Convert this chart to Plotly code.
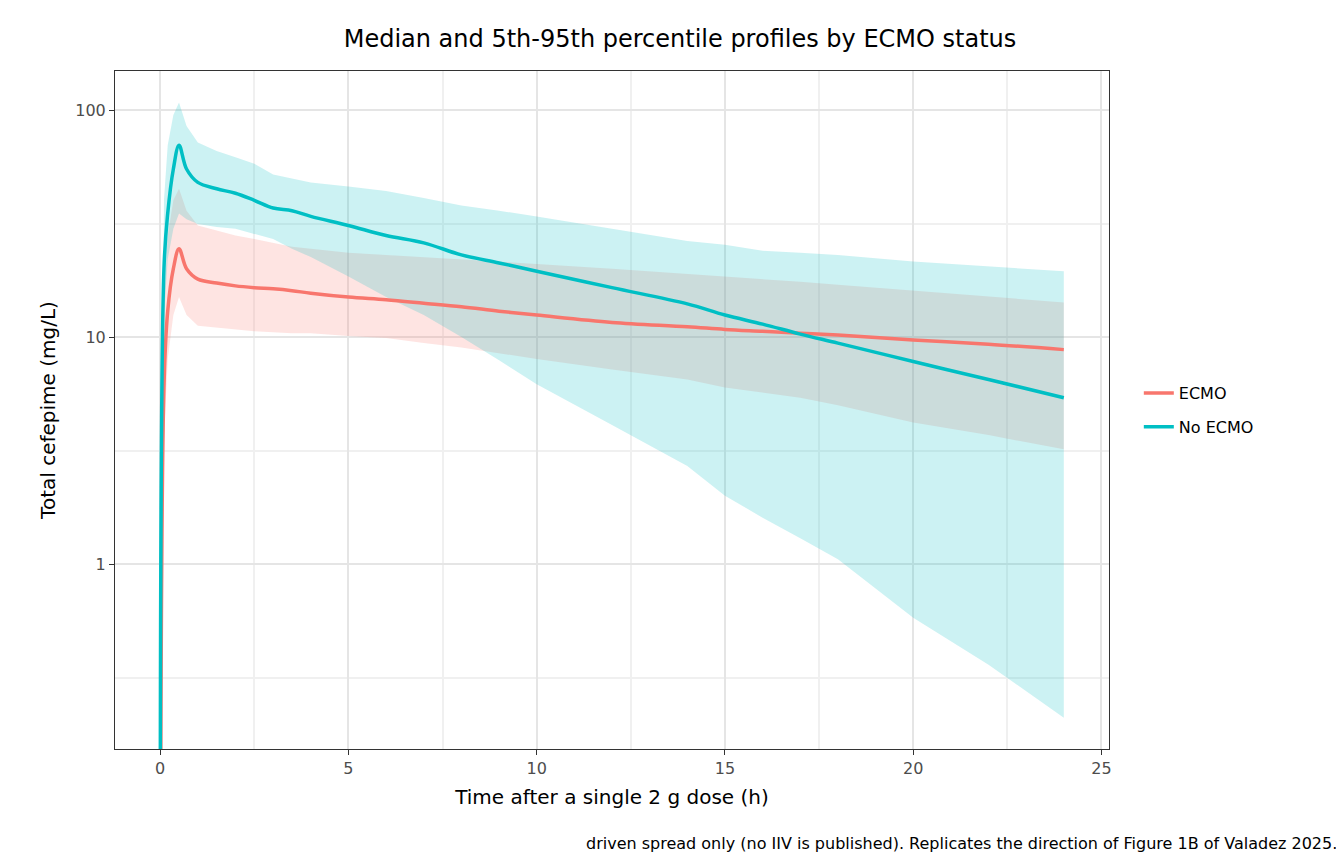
import plotly.graph_objects as go

# Time grid (h) and read-off concentrations (mg/L)
t = [0, 0.1, 0.2, 0.35, 0.5, 0.7, 1, 1.5, 2, 2.5, 3, 3.5, 4, 5, 6, 7, 8, 9, 10, 12, 14, 15, 16, 17, 18, 20, 22, 24]

noecmo_med = [0.01, 20, 35, 55, 70, 55, 48, 45, 43, 40, 37, 36, 34, 31, 28, 26, 23, 21.2, 19.5, 16.5, 14, 12.5, 11.4, 10.3, 9.4, 7.8, 6.5, 5.4]
noecmo_hi = [0.02, 40, 70, 95, 108, 85, 72, 66, 62, 58, 52, 50, 48, 46, 44, 41, 38, 36, 34, 30, 26.5, 25.5, 24, 23.5, 23, 21.5, 20.5, 19.5]
noecmo_lo = [0.005, 12, 22, 30, 35, 33, 31.5, 30.5, 30, 28.5, 27, 24.5, 22.5, 18.5, 15, 12.5, 10, 7.9, 6.2, 4.1, 2.7, 2.0, 1.6, 1.3, 1.05, 0.58, 0.36, 0.21]

ecmo_med = [0.01, 6, 13, 20, 24.5, 20, 18, 17.3, 16.8, 16.5, 16.3, 16, 15.6, 15, 14.6, 14.1, 13.6, 13, 12.5, 11.6, 11.1, 10.8, 10.6, 10.4, 10.2, 9.7, 9.3, 8.8]
ecmo_hi = [0.02, 14, 28, 40, 45, 36, 31, 29.5, 28, 27, 26, 25, 24.5, 23.5, 23, 22.5, 22, 21.5, 21, 20, 19, 18.5, 18, 17.5, 17, 16, 15, 14.2]
ecmo_lo = [0.005, 3.5, 8, 12.5, 15, 12.5, 11.2, 11, 10.8, 10.6, 10.5, 10.4, 10.4, 10.1, 9.9, 9.4, 9, 8.5, 8, 7.2, 6.5, 6, 5.7, 5.4, 5, 4.2, 3.7, 3.2]

groups = [
    ("ECMO", ecmo_med, ecmo_lo, ecmo_hi, "#F8766D", "rgba(248,118,109,0.2)"),
    ("No ECMO", noecmo_med, noecmo_lo, noecmo_hi, "#00BFC4", "rgba(0,191,196,0.2)"),
]

fig = go.Figure()
for name, med, lo, hi, col, fill in groups:
    fig.add_trace(go.Scatter(x=t, y=lo, mode="lines", line=dict(width=0), showlegend=False,
                             legendgroup=name, hoverinfo="skip"))
    fig.add_trace(go.Scatter(x=t, y=hi, mode="lines", line=dict(width=0), fill="tonexty",
                             fillcolor=fill, showlegend=False, legendgroup=name, hoverinfo="skip"))
for name, med, lo, hi, col, fill in groups:
    fig.add_trace(go.Scatter(x=t, y=med, mode="lines", name=name, legendgroup=name,
                             line=dict(color=col, width=3.5, shape="spline")))

axis_common = dict(showline=True, mirror=True, linecolor="#333333", linewidth=1,
                   gridcolor="#E5E5E5", gridwidth=1.5, ticks="outside", ticklen=5,
                   tickcolor="#333333", tickfont=dict(size=16, color="#4D4D4D"),
                   zeroline=False, automargin=False)

fig.update_layout(
    width=1344, height=864,
    font=dict(family="DejaVu Sans", color="black"),
    plot_bgcolor="white", paper_bgcolor="white",
    margin=dict(l=107, r=243, t=63, b=123, autoexpand=False),
    title=dict(text="Median and 5th-95th percentile profiles by ECMO status",
               x=0.5, xanchor="center", y=0.965, yanchor="middle", font=dict(size=24)),
    xaxis=dict(axis_common, range=[-1.2, 25.2], tickvals=[0, 5, 10, 15, 20, 25],
               minor=dict(tickvals=[2.5, 7.5, 12.5, 17.5, 22.5], showgrid=True,
                          gridcolor="#F0F0F0", ticks=""),
               title=dict(text="Time after a single 2 g dose (h)", font=dict(size=20), standoff=12)),
    yaxis=dict(axis_common, type="log", range=[-0.815, 2.172], tickvals=[1, 10, 100],
               ticktext=["1", "10", "100"],
               minor=dict(tickvals=[0.316, 3.16, 31.6], showgrid=True,
                          gridcolor="#F0F0F0", ticks=""),
               title=dict(text="Total cefepime (mg/L)", font=dict(size=20), standoff=14)),
    legend=dict(x=1.03, y=0.5, xanchor="left", yanchor="middle", font=dict(size=16),
                bgcolor="rgba(0,0,0,0)", tracegroupgap=10),
    annotations=[dict(
        text="driven spread only (no IIV is published). Replicates the direction of Figure 1B of Valadez 2025.",
        xref="paper", yref="paper", x=1.231, y=-0.139, xanchor="right", yanchor="middle",
        showarrow=False, font=dict(size=16))],
)
fig.write_html("out.html")
